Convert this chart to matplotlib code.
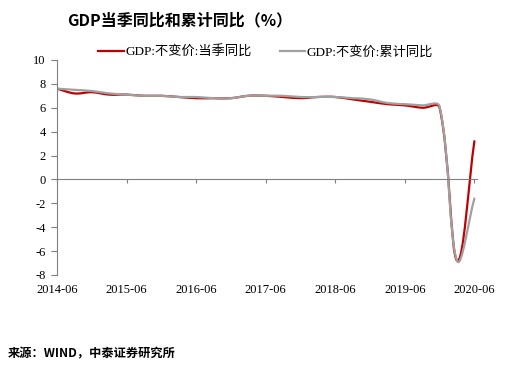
import numpy as np
import matplotlib.pyplot as plt
from matplotlib.path import Path
from matplotlib.patches import PathPatch
from matplotlib.lines import Line2D
import matplotlib.transforms as mtransforms

plt.rcParams['font.family'] = ['Liberation Serif', 'Noto Sans CJK SC']

# quarterly data, 2014-06 .. 2020-06
quarters = ['2014-06', '2014-09', '2014-12',
            '2015-03', '2015-06', '2015-09', '2015-12',
            '2016-03', '2016-06', '2016-09', '2016-12',
            '2017-03', '2017-06', '2017-09', '2017-12',
            '2018-03', '2018-06', '2018-09', '2018-12',
            '2019-03', '2019-06', '2019-09', '2019-12',
            '2020-03', '2020-06']
gdp_q = [7.6, 7.2, 7.3,
         7.1, 7.1, 7.0, 7.0,
         6.9, 6.8, 6.8, 6.8,
         7.0, 7.0, 6.9, 6.8,
         6.9, 6.9, 6.7, 6.5,
         6.3, 6.2, 6.0, 6.0,
         -6.8, 3.2]
gdp_cum = [7.6, 7.5, 7.4,
           7.2, 7.1, 7.0, 7.0,
           6.9, 6.9, 6.8, 6.8,
           7.0, 7.0, 7.0, 6.9,
           6.9, 6.9, 6.8, 6.7,
           6.4, 6.3, 6.2, 6.1,
           -6.8, -1.6]
xtick_labels = ['2014-06', '2015-06', '2016-06', '2017-06', '2018-06', '2019-06', '2020-06']


def smooth_path(y, sx=17.5, sy=11.94):
    # Excel-like smoothed line: cubic Bezier through every point,
    # control arms scaled by neighbouring segment lengths (screen units)
    x = np.arange(len(y), dtype=float)
    p = np.column_stack([x, np.asarray(y, dtype=float)])
    n = len(p)

    def dist(a, b):
        return np.hypot((a[0] - b[0]) * sx, (a[1] - b[1]) * sy)

    tang = []
    for i in range(n):
        prev = p[max(i - 1, 0)]
        nxt = p[min(i + 1, n - 1)]
        tang.append((nxt - prev, dist(p[i], prev), dist(p[i], nxt)))

    verts = [p[0]]
    codes = [Path.MOVETO]
    for i in range(n - 1):
        t0, dp0, dn0 = tang[i]
        t1, dp1, dn1 = tang[i + 1]
        k0 = dn0 / (dp0 + dn0) / 3.0 if dp0 + dn0 > 0 else 0
        k1 = dp1 / (dp1 + dn1) / 3.0 if dp1 + dn1 > 0 else 0
        k0 = k0 * 1.25 if k0 < 1 / 6.0 else k0
        k1 = k1 * 1.25 if k1 < 1 / 6.0 else k1
        c1 = p[i] + t0 * k0
        c2 = p[i + 1] - t1 * k1
        verts += [c1, c2, p[i + 1]]
        codes += [Path.CURVE4] * 3
    return Path(verts, codes)


fig = plt.figure(figsize=(5.15, 3.72), dpi=100)
ax = fig.add_axes([0.1107, 0.2608, 0.8155, 0.578])

red = '#C00000'
grey = '#A0A0A0'
ax.add_patch(PathPatch(smooth_path(gdp_q), facecolor='none', edgecolor=red,
                       lw=1.6, capstyle='round', joinstyle='round'))
ax.add_patch(PathPatch(smooth_path(gdp_cum), facecolor='none', edgecolor=grey,
                       lw=1.6, capstyle='round', joinstyle='round'))

ax.set_xlim(0, 24.15)
ax.set_ylim(-8, 10)
ax.set_yticks(range(-8, 11, 2))
ax.set_yticklabels([str(v) for v in range(-8, 11, 2)])

for s in ['top', 'right']:
    ax.spines[s].set_visible(False)
ax.spines['left'].set_color('#808080')
ax.spines['bottom'].set_color('#808080')
ax.spines['bottom'].set_position(('data', 0))

xt = [quarters.index(q) for q in xtick_labels]
ax.set_xticks(xt)
ax.set_xticklabels([])
ax.tick_params(axis='x', direction='out', length=3, color='#808080')
ax.tick_params(axis='y', direction='out', length=4, color='#808080',
               labelsize=9, pad=4)

trans = mtransforms.blended_transform_factory(ax.transData, ax.transAxes)
for pos, lab in zip(xt, xtick_labels):
    ax.text(pos, -0.07, lab, transform=trans, ha='center', va='center', fontsize=9)

handles = [Line2D([], [], color=red, lw=1.6),
           Line2D([], [], color=grey, lw=1.6)]
ax.legend(handles, ['GDP:不变价:当季同比', 'GDP:不变价:累计同比'],
          loc='center', bbox_to_anchor=(0.497, 1.035), ncol=2, frameon=False,
          fontsize=9.5, handlelength=1.9, handletextpad=0.15, columnspacing=2.1,
          borderaxespad=0)

fig.text(0.13, 0.946, 'GDP当季同比和累计同比（%）', fontsize=11.5, fontweight='bold',
         fontstyle='italic', family=['Noto Sans CJK SC'], ha='left', va='center')
fig.text(0.015, 0.048, '来源：WIND，中泰证券研究所', fontsize=8.8, fontweight='bold',
         fontstyle='italic', family=['Noto Sans CJK SC'], ha='left', va='center')

fig.savefig('out.png', dpi=100)
